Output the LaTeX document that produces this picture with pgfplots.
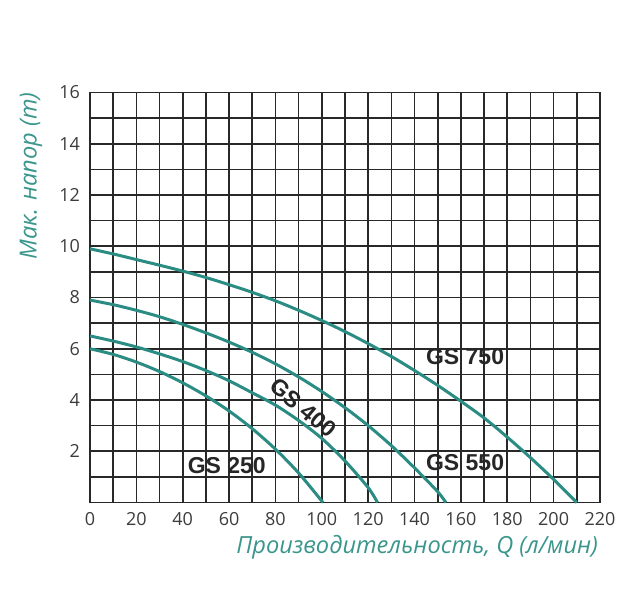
\documentclass[border=0pt]{standalone}
\usepackage{fontspec}
\setmainfont{Open Sans}
\newfontfamily\labfont{Liberation Sans}
\usepackage{pgfplots}
\pgfplotsset{compat=1.18}
\definecolor{curve}{RGB}{42,140,130}
\definecolor{ttl}{RGB}{58,150,140}
\definecolor{tk}{RGB}{60,60,60}
\definecolor{gr}{RGB}{40,40,40}
\begin{document}
\begin{tikzpicture}
\path[use as bounding box] (-45pt,-54.25pt) rectangle (274pt,251.25pt);
\begin{axis}[
  scale only axis, width=255pt, height=205pt,
  xmin=0, xmax=220, ymin=0, ymax=16,
  xtick={0,20,...,220}, ytick={2,4,...,16},
  minor xtick={10,30,...,210}, minor ytick={1,3,...,15},
  grid=both,
  major grid style={gr, line width=0.8pt},
  minor grid style={gr, line width=0.8pt},
  axis line style={gr, line width=0.9pt},
  tick style={draw=none},
  /pgf/number format/assume math mode=true,
  ticklabel style={font=\fontsize{9}{10}\selectfont, text=tk},
  yticklabel style={xshift=-1.5pt},
  xticklabel style={yshift=-1.5pt},
  clip=false,
]
% GS 750
\addplot[curve, line width=1.5pt, smooth] coordinates {(0,9.9)(10,9.7)(20,9.48)(30,9.26)(40,9.03)(50,8.78)(60,8.5)(70,8.2)(80,7.87)(90,7.5)(100,7.1)(110,6.67)(120,6.2)(130,5.7)(140,5.15)(150,4.57)(160,3.95)(170,3.3)(180,2.55)(190,1.75)(200,0.9)(210,0)};
% GS 550
\addplot[curve, line width=1.5pt, smooth] coordinates {(0,7.9)(10,7.72)(20,7.5)(30,7.25)(40,6.95)(50,6.62)(60,6.26)(70,5.86)(80,5.41)(90,4.9)(100,4.33)(110,3.7)(120,3.0)(130,2.22)(140,1.35)(150,0.42)(153.5,0)};
% GS 400
\addplot[curve, line width=1.5pt, smooth] coordinates {(0,6.5)(10,6.3)(20,6.07)(30,5.8)(40,5.5)(50,5.15)(60,4.75)(70,4.28)(80,3.8)(90,3.2)(100,2.5)(110,1.62)(120,0.58)(124,0)};
% GS 250
\addplot[curve, line width=1.5pt, smooth] coordinates {(0,6.0)(10,5.78)(20,5.48)(30,5.11)(40,4.67)(50,4.16)(60,3.57)(70,2.88)(80,2.08)(90,1.15)(100.5,0)};
\node[font=\labfont\bfseries\fontsize{11.5}{12}\selectfont, text=black!85] at (axis cs:161.8,5.68) {GS 750};
\node[font=\labfont\bfseries\fontsize{11.5}{12}\selectfont, text=black!85] at (axis cs:161.8,1.54) {GS 550};
\node[font=\labfont\bfseries\fontsize{11.5}{12}\selectfont, text=black!85] at (axis cs:59,1.46) {GS 250};
\node[font=\labfont\bfseries\fontsize{11.5}{12}\selectfont, text=black!85, rotate=-40] at (axis cs:91.9,3.69) {GS 400};
\node[anchor=east, rotate=90, font=\itshape\fontsize{11.8}{13}\selectfont, text=ttl] at ([xshift=-29.5pt,yshift=3.5pt]rel axis cs:0,1) {Мак. напор (m)};
\node[anchor=east, font=\itshape\fontsize{11.8}{13}\selectfont, text=ttl] at ([xshift=2.5pt,yshift=-22.5pt]rel axis cs:1,0) {Производительность, Q (л/мин)};
\end{axis}
\end{tikzpicture}
\end{document}
